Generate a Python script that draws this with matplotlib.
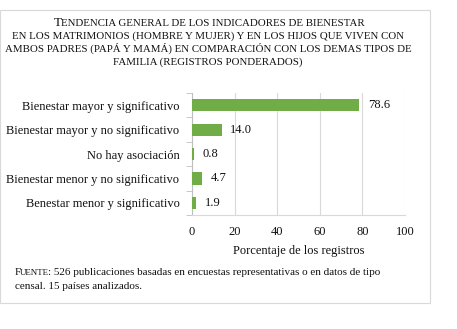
import numpy as np
import matplotlib.pyplot as plt
from matplotlib.patches import Rectangle

plt.rcParams['font.family'] = ['Liberation Serif', 'DejaVu Serif']

categories = [
    "Bienestar mayor y significativo",
    "Bienestar mayor y no significativo",
    "No hay asociación",
    "Bienestar menor y no significativo",
    "Benestar menor y significativo",
]
values = [78.6, 14.0, 0.8, 4.7, 1.9]
x_ticks = [0, 20, 40, 60, 80, 100]

title_lines = [
    "TENDENCIA GENERAL DE LOS INDICADORES DE BIENESTAR",
    "EN LOS MATRIMONIOS (HOMBRE Y MUJER) Y EN LOS HIJOS QUE VIVEN CON",
    "AMBOS PADRES (PAPÁ Y MAMÁ) EN COMPARACIÓN CON LOS DEMAS TIPOS DE",
    "FAMILIA (REGISTROS PONDERADOS)",
]
source_lines = [
    "FUENTE: 526 publicaciones basadas en encuestas representativas o en datos de tipo",
    "censal. 15 países analizados.",
]

bar_color = "#70AD47"
txt_color = "#111111"
W, H = 457, 329

fig = plt.figure(figsize=(W / 100, H / 100), dpi=100)
fig.patch.set_facecolor("white")
renderer = fig.canvas.get_renderer()


def put_pieces(x, y, pieces, ha="left"):
    """Draw a run of text pieces (text, size) on one baseline, in pixels."""
    arts = []
    cur = x
    for s, size in pieces:
        t = fig.text(cur / W, 1 - y / H, s, fontsize=size, va="baseline",
                     ha="left", color=txt_color)
        cur = t.get_window_extent(renderer).x1 - 1
        arts.append(t)
    if ha == "center":
        shift = (cur - x) / 2
        for t in arts:
            px, py = t.get_position()
            t.set_position((px - shift / W, py))


# outer frame
fig.add_artist(Rectangle((0 / W, 1 - 303 / H), 430 / W, 293 / H,
                         transform=fig.transFigure, fill=False,
                         edgecolor="#d9d9d9", linewidth=0.8))

# title, small caps look: big first letter, rest uppercase smaller
put_pieces(209, 26, [(title_lines[0][0], 9.6), (title_lines[0][1:], 7.8)],
           ha="center")
for line, y in zip(title_lines[1:], [39, 52, 65]):
    fig.text(208 / W, 1 - y / H, line, ha="center", va="baseline",
             fontsize=7.8, color=txt_color)

ax = fig.add_axes([192 / W, 1 - 215 / H, 213 / W, 122 / H])
y = np.arange(len(categories))
ax.barh(y, values, height=0.5, color=bar_color, zorder=3)
ax.set_ylim(len(categories) - 0.5, -0.5)
ax.set_xlim(0, 100)
ax.set_xticks(x_ticks)
ax.set_yticks(y)
ax.set_yticklabels(categories, fontsize=9, color=txt_color)
ax.set_yticks(np.arange(-0.5, len(categories)), minor=True)
ax.tick_params(axis="y", which="major", length=0, pad=9)
ax.tick_params(axis="y", which="minor", length=4, color="#bfbfbf")
ax.tick_params(axis="x", length=0, labelsize=9, pad=8, labelcolor=txt_color)
ax.grid(axis="x", color="#d9d9d9", linewidth=0.8, zorder=0)
for side in ["top", "right"]:
    ax.spines[side].set_visible(False)
ax.spines["left"].set_color("#bfbfbf")
ax.spines["bottom"].set_color("#d9d9d9")
ax.set_xlabel("Porcentaje de los registros", fontsize=9, labelpad=5,
              color=txt_color)

# value labels
for yi, v in zip(y, values):
    ax.text(v + 4, yi, f"{v:.1f}", va="center", ha="left", fontsize=9,
            color=txt_color)

# source note
head, rest = source_lines[0].split(":", 1)
put_pieces(15, 275, [(head[0], 8.0), (head[1:], 6.4), (":" + rest, 8.0)])
fig.text(15 / W, 1 - 289 / H, source_lines[1], fontsize=8.0, va="baseline",
         ha="left", color=txt_color)

fig.savefig("out.png", dpi=100)
